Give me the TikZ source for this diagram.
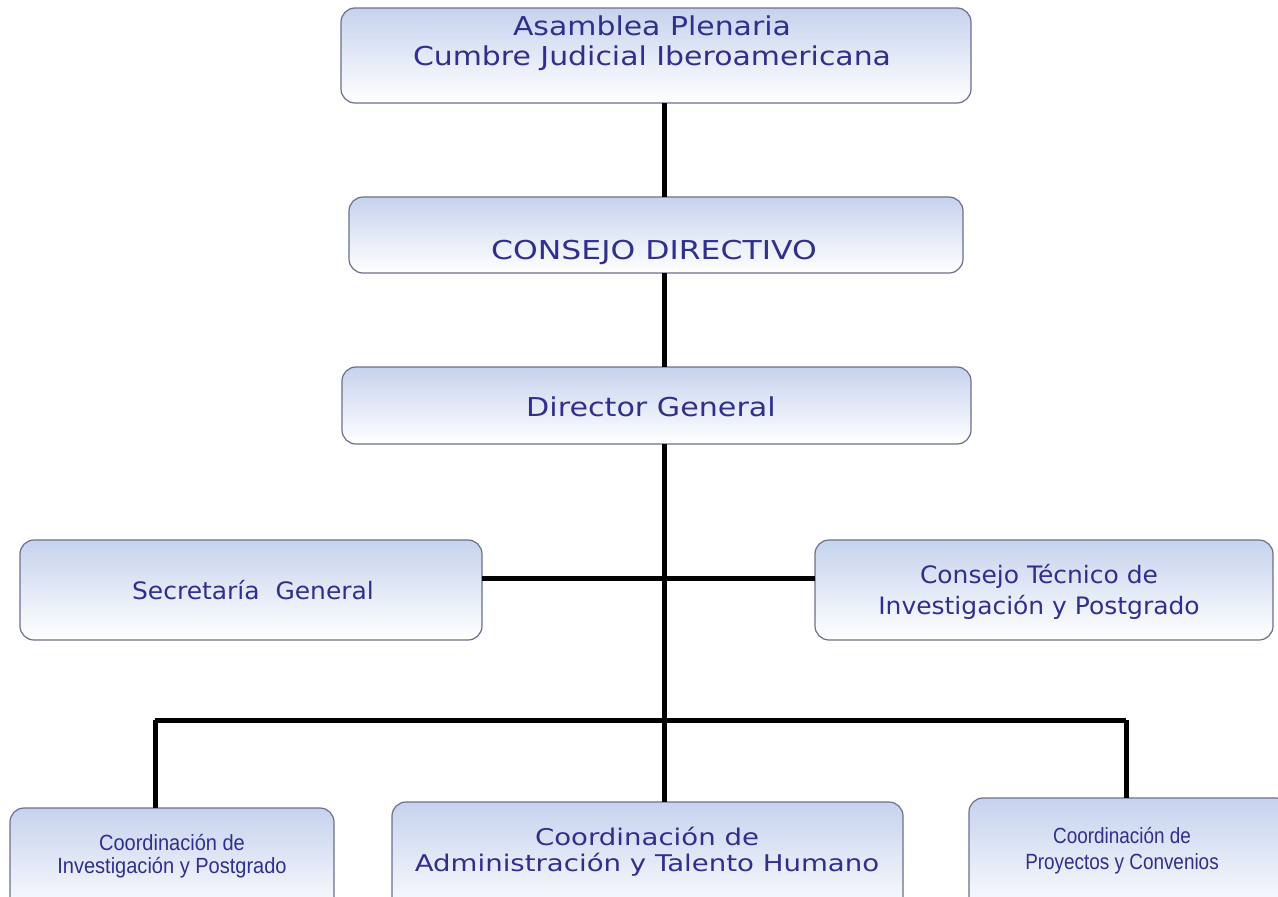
\documentclass[tikz,border=0pt]{standalone}
\usepackage{fontspec}
\usepackage{graphicx}
\setmainfont{DejaVu Sans}
\newfontfamily\smallfont{Liberation Sans}
\definecolor{boxtop}{HTML}{C6D3EE}
\definecolor{boxline}{HTML}{6C6E8E}
\definecolor{txt}{HTML}{2F2F8C}
\newcommand{\wtxt}[2]{\scalebox{#1}[1]{\begin{tabular}{@{}c@{}}#2\end{tabular}}}
\begin{document}
\begin{tikzpicture}[x=1pt,y=-1pt,
  orgbox/.style={draw=boxline, line width=1.2pt, rounded corners=14pt, top color=boxtop, bottom color=white},
  lbl/.style={text=txt, align=center, inner sep=0pt},
  conn/.style={line width=5pt, black}]
\useasboundingbox (0,0) rectangle (1278,897);
\clip (0,0) rectangle (1278,897);
% boxes
\path[orgbox] (341,8) rectangle (971,103);
\node[lbl, font=\fontsize{26}{30}\selectfont] (asam) at (652,44) {\wtxt{1.15}{Asamblea Plenaria\\Cumbre Judicial Iberoamericana}};
\coordinate (asamB) at (664,103);
\path[orgbox] (349,197) rectangle (963,273);
\node[lbl, font=\fontsize{26}{29}\selectfont] (cdir) at (654,254) {\wtxt{1.21}{CONSEJO DIRECTIVO}};
\coordinate (cdirT) at (664,197);
\coordinate (cdirB) at (664,273);
\path[orgbox] (342,367) rectangle (971,444);
\node[lbl, font=\fontsize{26}{29}\selectfont] (dg) at (651,411) {\wtxt{1.16}{Director General}};
\coordinate (dgT) at (664,367);
\coordinate (dgB) at (664,444);
\path[orgbox] (20,540) rectangle (482,640);
\node[lbl, font=\fontsize{24}{29}\selectfont] (sec) at (253,594) {\wtxt{1.04}{Secretaría\ \ General}};
\coordinate (secR) at (482,578);
\path[orgbox] (815,540) rectangle (1273,640);
\node[lbl, font=\fontsize{24}{31}\selectfont] (ct) at (1039,593) {\wtxt{1.04}{Consejo Técnico de\\Investigación y Postgrado}};
\coordinate (ctL) at (815,578);
\path[orgbox] (10,808) rectangle (334,920);
\node[lbl, font=\smallfont\fontsize{22}{23}\selectfont] (ci) at (172,857) {\wtxt{0.91}{Coordinación de\\Investigación y Postgrado}};
\coordinate (ciT) at (155,808);
\path[orgbox] (392,802) rectangle (903,920);
\node[lbl, font=\fontsize{23}{25}\selectfont] (ca) at (647,853) {\wtxt{1.2}{Coordinación de\\Administración y Talento Humano}};
\coordinate (caT) at (664,802);
\path[orgbox] (969,798) rectangle (1290,920);
\node[lbl, font=\smallfont\fontsize{22}{26}\selectfont] (cp) at (1122,851) {\wtxt{0.86}{Coordinación de\\Proyectos y Convenios}};
\coordinate (cpT) at (1126,798);
% connectors
\coordinate (jl) at (155,720);
\coordinate (jr) at (1126,720);
\draw[conn] (asamB) -- (cdirT);
\draw[conn] (cdirB) -- (dgT);
\draw[conn] (dgB) -- (caT);
\draw[conn] (secR) -- (ctL);
\draw[conn] (jl) -- (jr);
\draw[conn] (jl) -- (ciT);
\draw[conn] (jr) -- (cpT);
\end{tikzpicture}
\end{document}
